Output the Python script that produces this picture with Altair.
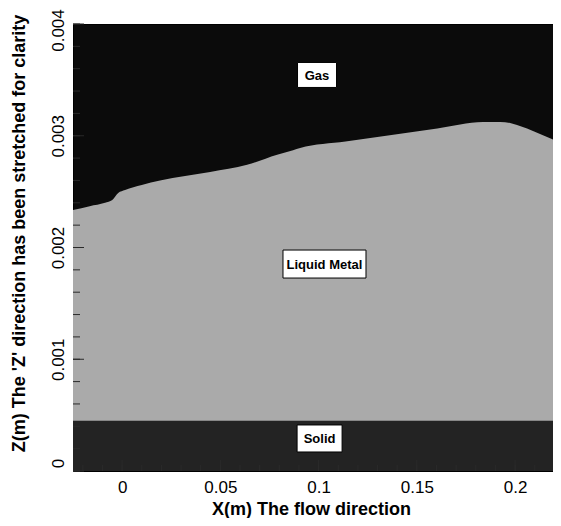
import altair as alt
import pandas as pd

# Liquid metal free surface (x in m, z in m)
surface_x = [-0.025, -0.0165, -0.0087, -0.005, -0.002, 0.0015, 0.01, 0.0193, 0.0448,
             0.0636, 0.0789, 0.087, 0.0906, 0.1137, 0.1371, 0.1604, 0.1837, 0.1924,
             0.1975, 0.201, 0.2061, 0.2127, 0.2234]
surface_z = [0.002336, 0.00237, 0.0024, 0.002425, 0.002488, 0.002515, 0.00256, 0.0026,
             0.002676, 0.00274, 0.00283, 0.00287, 0.00289, 0.002948, 0.003006, 0.003065,
             0.003123, 0.003123, 0.003114, 0.003096, 0.003065, 0.003015, 0.002935]

x_min, x_max = -0.025, 0.2193
z_min, z_max = 0.0, 0.004
solid_top = 0.00045

label_text = ["Gas", "Liquid Metal", "Solid"]
label_x = [0.0992, 0.103, 0.1005]
label_z = [0.003544, 0.001852, 0.000291]
box_w = [39, 83, 45]
box_h = [25, 28, 27]

x_major = [0, 0.05, 0.1, 0.15, 0.2]
x_minor = [round(-0.02 + 0.01 * i, 3) for i in range(24)]
z_major = [0, 0.001, 0.002, 0.003, 0.004]
z_minor = [round(0.0002 * i, 4) for i in range(21)]

W, H = 480, 447
FONT = "Liberation Sans"

xs = alt.Scale(domain=[x_min, x_max], nice=False, zero=False)
zs = alt.Scale(domain=[z_min, z_max], nice=False, zero=False)

surf = pd.DataFrame({"x": surface_x, "z": surface_z})

xaxis = alt.Axis(values=x_major, format="~g", grid=False, ticks=False, tickSize=0, domain=False,
                 labelFont=FONT, labelFontSize=17, labelColor="#000", labelPadding=8,
                 title="X(m) The flow direction", titleFont=FONT, titleFontSize=18,
                 titleFontWeight="bold", titleColor="#000", titleBaseline="alphabetic",
                 titleX=238, titleY=43, titleAlign="center")
zaxis = alt.Axis(values=z_major, format="~g", grid=False, ticks=False, tickSize=0, domain=False,
                 labelFont=FONT, labelFontSize=17, labelColor="#000", labelAngle=-90,
                 labelAlign="center", labelBaseline="alphabetic", labelPadding=10,
                 labelOffset=alt.ExprRef(expr="datum.value >= 0.0039 ? 6 : (datum.value == 0 ? -8 : 0)"),
                 title="Z(m) The 'Z' direction has been stretched for clarity",
                 titleFont=FONT, titleFontSize=18, titleFontWeight="bold", titleColor="#000",
                 titleAngle=-90, titleBaseline="alphabetic", titleAlign="center",
                 titleX=-49, titleY=209)

liquid = alt.Chart(surf).mark_area(color="#aaaaaa", interpolate="monotone", clip=True).encode(
    x=alt.X("x:Q", scale=xs, axis=xaxis),
    y=alt.Y("z:Q", scale=zs, axis=zaxis),
    y2=alt.datum(0),
)

solid = alt.Chart(pd.DataFrame({"a": [x_min], "b": [x_max], "t": [solid_top]})).mark_rect(
    color="#232323").encode(
    x=alt.X("a:Q", scale=xs), x2="b:Q",
    y=alt.Y("t:Q", scale=zs), y2=alt.datum(0),
)

tick_color = "#2a2a2a"
xmaj = alt.Chart(pd.DataFrame({"v": x_major})).mark_rule(color=tick_color, strokeWidth=1).encode(
    x=alt.X("v:Q", scale=xs), y=alt.value(H), y2=alt.value(H - 11))
xmin_ = alt.Chart(pd.DataFrame({"v": x_minor})).mark_rule(color=tick_color, strokeWidth=1).encode(
    x=alt.X("v:Q", scale=xs), y=alt.value(H), y2=alt.value(H - 6))
zmaj = alt.Chart(pd.DataFrame({"v": z_major})).mark_rule(color=tick_color, strokeWidth=1).encode(
    y=alt.Y("v:Q", scale=zs), x=alt.value(0), x2=alt.value(11))
zmin_ = alt.Chart(pd.DataFrame({"v": z_minor})).mark_rule(color=tick_color, strokeWidth=1).encode(
    y=alt.Y("v:Q", scale=zs), x=alt.value(0), x2=alt.value(7))

labels = pd.DataFrame({"t": label_text, "x": label_x, "z": label_z})

box_layers = []
for bx, bz, w, h in zip(label_x, label_z, box_w, box_h):
    r = h / w
    path = f"M-1,-{r:.4f}L1,-{r:.4f}L1,{r:.4f}L-1,{r:.4f}Z"
    box_layers.append(
        alt.Chart(pd.DataFrame({"x": [bx], "z": [bz]})).mark_point(
            shape=path, filled=True, fill="white", stroke="black", strokeWidth=1,
            size=w * w, opacity=1).encode(
            x=alt.X("x:Q", scale=xs), y=alt.Y("z:Q", scale=zs)))

texts = alt.Chart(labels).mark_text(font=FONT, fontSize=13, fontWeight="bold", color="black",
                                    baseline="middle", align="center", dy=1).encode(
    x=alt.X("x:Q", scale=xs), y=alt.Y("z:Q", scale=zs), text="t:N")

chart = alt.layer(liquid, solid, xmin_, xmaj, zmin_, zmaj, *box_layers, texts).properties(
    width=W, height=H,
    autosize=alt.AutoSizeParams(type="none"),
    padding={"left": 65, "top": 16, "right": 0, "bottom": 47},
).configure_view(fill="#0b0b0b", stroke="#000", strokeWidth=1)

chart.save("out.html", embed_options={"renderer": "svg", "actions": False})
